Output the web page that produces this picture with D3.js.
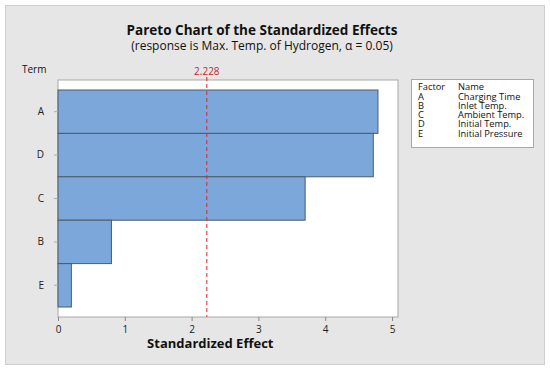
<!DOCTYPE html>
<html>
<meta charset="utf-8">
<head>
  <title>Pareto chart of standardized effects</title>
</head>
<style>
body { margin: 0; background: white; }
text { font-family: "Open Sans", "Noto Sans", sans-serif; fill: #111; }
</style>
<body>
<svg width="550" height="370"></svg>
<script src="https://cdnjs.cloudflare.com/ajax/libs/d3/7.8.5/d3.min.js"></script>
<script>
// data
var terms = ["A", "D", "C", "B", "E"];
var effects = [4.79, 4.72, 3.70, 0.80, 0.20];
var xTicks = [0, 1, 2, 3, 4, 5];
var critical = 2.228;
var factors = ["A", "B", "C", "D", "E"];
var factorNames = ["Charging Time", "Inlet Temp.", "Ambient Temp.", "Initial Temp.", "Initial Pressure"];

var svg = d3.select("svg");

// gray frame
svg.append("rect")
  .attr("x", 5.5).attr("y", 5.5)
  .attr("width", 539).attr("height", 359)
  .attr("fill", "#e6e6e6")
  .attr("stroke", "#cfcfcf");

var pLeft = 58, pRight = 398, pTop = 80, pBottom = 317;

var x = d3.scaleLinear().domain([0, 5.09]).range([pLeft, pRight]);
var y = d3.scaleBand().domain(terms).range([pTop + 10, pBottom - 10]).padding(0);

svg.append("rect")
  .attr("x", pLeft).attr("y", pTop)
  .attr("width", pRight - pLeft).attr("height", pBottom - pTop)
  .attr("fill", "white")
  .attr("stroke", "#a8a8a8");

svg.selectAll(".bar")
  .data(effects)
  .enter()
  .append("rect")
  .attr("class", "bar")
  .attr("x", x(0))
  .attr("y", function(d, i) { return y(terms[i]); })
  .attr("width", function(d) { return x(d) - x(0); })
  .attr("height", y.bandwidth())
  .attr("fill", "#7ba7db")
  .attr("stroke", "#4f5b66")
  .attr("stroke-width", 1);

// reference line
svg.append("line")
  .attr("x1", x(critical)).attr("x2", x(critical))
  .attr("y1", 77).attr("y2", pBottom)
  .attr("stroke", "#e0262b")
  .attr("stroke-dasharray", "4,3");

svg.append("text")
  .attr("x", x(critical)).attr("y", 75)
  .attr("text-anchor", "middle")
  .style("font-size", "10px")
  .style("fill", "#c0282c")
  .text(critical);

// axes
var xAxis = svg.append("g")
  .attr("transform", "translate(0," + pBottom + ")")
  .call(d3.axisBottom(x).tickValues(xTicks).tickSize(4).tickFormat(d3.format("d")));
xAxis.select(".domain").remove();
xAxis.selectAll("line").attr("stroke", "#888");
xAxis.selectAll("text").style("font-size", "10px").style("fill", "#222").attr("dy", "0.85em");

var yAxis = svg.append("g")
  .attr("transform", "translate(" + pLeft + ",0)")
  .call(d3.axisLeft(y).tickSize(4).tickPadding(10));
yAxis.select(".domain").remove();
yAxis.selectAll("line").attr("stroke", "#aaa");
yAxis.selectAll("text").style("font-size", "10px").style("fill", "#222");

// titles
svg.append("text")
  .attr("x", 262).attr("y", 35)
  .attr("text-anchor", "middle")
  .style("font-size", "13.5px").style("font-weight", "bold")
  .text("Pareto Chart of the Standardized Effects");

svg.append("text")
  .attr("x", 262).attr("y", 50)
  .attr("text-anchor", "middle")
  .style("font-size", "12px")
  .text("(response is Max. Temp. of Hydrogen, \u03b1 = 0.05)");

svg.append("text")
  .attr("x", 22).attr("y", 73)
  .style("font-size", "10px")
  .text("Term");

svg.append("text")
  .attr("x", x(2.28)).attr("y", 348)
  .attr("text-anchor", "middle")
  .style("font-size", "13px").style("font-weight", "bold")
  .text("Standardized Effect");

// legend
var lg = svg.append("g").attr("transform", "translate(411,79)");
lg.append("rect")
  .attr("x", 0.5).attr("y", 0.5)
  .attr("width", 122).attr("height", 68)
  .attr("fill", "white")
  .attr("stroke", "#a8a8a8");

lg.append("text").attr("x", 7).attr("y", 11).style("font-size", "9.3px").text("Factor");
lg.append("text").attr("x", 47).attr("y", 11).style("font-size", "9.3px").text("Name");

lg.selectAll(".row")
  .data(factors)
  .enter()
  .append("g")
  .attr("class", "row")
  .attr("transform", function(d, i) { return "translate(0," + (20.5 + i * 9.3) + ")"; })
  .each(function(d, i) {
    var g = d3.select(this);
    g.append("text").attr("x", 7).style("font-size", "9.3px").text(d);
    g.append("text").attr("x", 47).style("font-size", "9.3px").text(factorNames[i]);
  });
</script>
</body>
</html>
